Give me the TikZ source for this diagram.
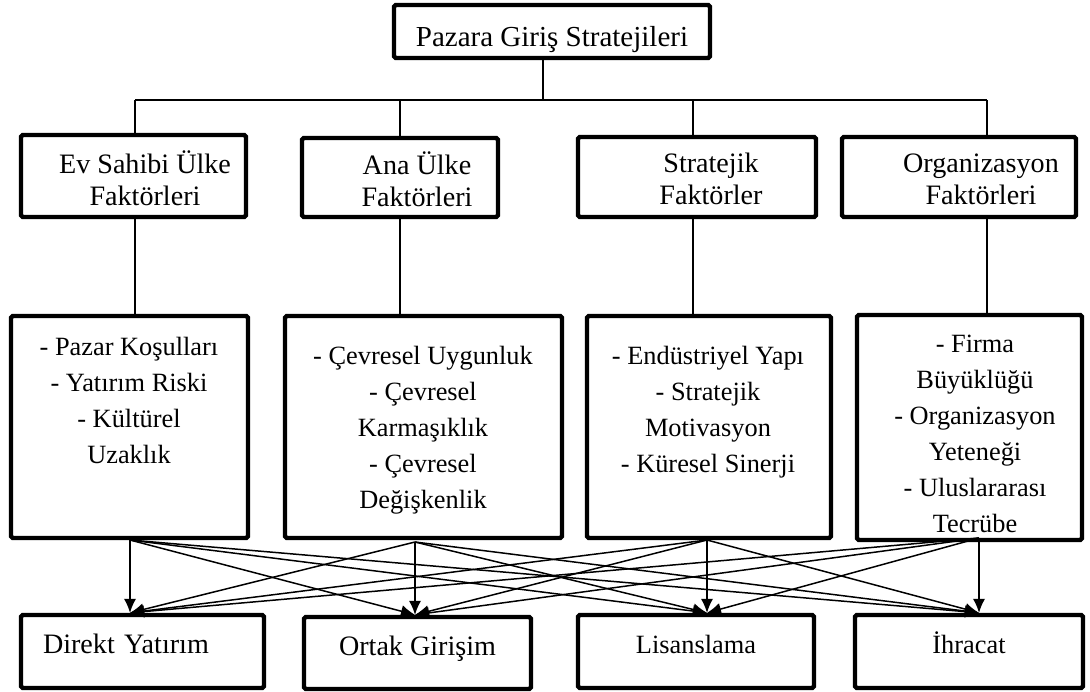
\documentclass[tikz,border=0pt]{standalone}
\usepackage{fontspec}
\setmainfont{Liberation Serif}
\usetikzlibrary{arrows.meta}

\begin{document}
\begin{tikzpicture}[x=0.02cm,y=-0.02cm,
    kutu/.style={draw, line width=2.5pt, rounded corners=1pt, inner sep=0pt},
    baslik/.style={align=center, inner sep=0pt, font=\fontsize{16}{18.2}\selectfont},
    madde/.style={align=center, inner sep=0pt, font=\fontsize{15}{20.5}\selectfont},
    sonuc/.style={kutu, text height=0.4cm, text depth=0.32cm},
    cizgi/.style={line width=0.9pt},
    ok/.style={line width=0.85pt, -{Latex[length=8pt,width=7pt]}}]
\useasboundingbox (0,0) rectangle (1090,691);

% ana baslik
\node[kutu, minimum width=6.32cm, minimum height=1.06cm, text height=0.64cm, text depth=0.05cm,
  font=\fontsize{16.5}{20}\selectfont] (ana) at (552,31.5) {Pazara Giriş Stratejileri};

% faktorler
\node[kutu, minimum width=4.5cm, minimum height=1.64cm] (fa1) at (133.5,176) {};
\node[kutu, minimum width=3.92cm, minimum height=1.58cm] (fa2) at (400,177.5) {};
\node[kutu, minimum width=4.76cm, minimum height=1.6cm] (fa3) at (697,177) {};
\node[kutu, minimum width=4.68cm, minimum height=1.6cm] (fa4) at (959,177) {};
\node[baslik] (fa1y) at (145,178) {Ev Sahibi Ülke\\Faktörleri};
\node[baslik] (fa2y) at (417,179) {Ana Ülke\\Faktörleri};
\node[baslik] (fa3y) at (711,179) {Stratejik\\Faktörler};
\node[baslik] (fa4y) at (981,179) {Organizasyon\\Faktörleri};

% alt faktorler
\node[kutu, minimum width=4.74cm, minimum height=4.44cm] (fb1) at (129.5,427) {};
\node[kutu, minimum width=5.54cm, minimum height=4.44cm] (fb2) at (423.5,427) {};
\node[kutu, minimum width=4.88cm, minimum height=4.44cm] (fb3) at (709,427) {};
\node[kutu, minimum width=4.5cm, minimum height=4.5cm] (fb4) at (969.5,427.5) {};
\node[madde, anchor=north] (fb1y) at (129,337) {- Pazar Koşulları\\- Yatırım Riski\\- Kültürel\\Uzaklık};
\node[madde, anchor=north] (fb2y) at (423,346) {- Çevresel Uygunluk\\- Çevresel\\Karmaşıklık\\- Çevresel\\Değişkenlik};
\node[madde, anchor=north] (fb3y) at (708,346) {- Endüstriyel Yapı\\- Stratejik\\Motivasyon\\- Küresel Sinerji};
\node[madde, anchor=north] (fb4y) at (975,335) {- Firma\\Büyüklüğü\\- Organizasyon\\Yeteneği\\- Uluslararası\\Tecrübe};

% giris yollari
\node[sonuc, inner xsep=0.44cm, text width=3.98cm, align=left, minimum height=1.46cm,
  font=\fontsize{16}{19}\selectfont] (r1) at (142.5,651.5) {Direkt Yatırım};
\node[sonuc, minimum width=4.54cm, minimum height=1.44cm, font=\fontsize{16}{19}\selectfont] (r2) at (417.5,653) {Ortak Girişim};
\node[sonuc, minimum width=4.72cm, minimum height=1.46cm, font=\fontsize{15}{18}\selectfont] (r3) at (696,651.5) {Lisanslama};
\node[sonuc, minimum width=4.56cm, minimum height=1.46cm, font=\fontsize{15}{18}\selectfont] (r4) at (969,651.5) {İhracat};

% agac cizgileri
\coordinate (orta) at (543,100);
\coordinate (k1) at (135,100);
\coordinate (k2) at (400,100);
\coordinate (k3) at (693,100);
\coordinate (k4) at (987,100);
\draw[cizgi] (ana.south -| orta) -- (orta);
\draw[cizgi] (k1) -- (k4);
\foreach \i in {1,...,4}{
  \draw[cizgi] (k\i) -- (k\i |- fa\i.north);
  \draw[cizgi] (k\i |- fa\i.south) -- (k\i |- fb\i.north);
}

% oklar
\coordinate (s1) at (130,540);
\coordinate (s2) at (415,542);
\coordinate (s3) at (707,540);
\coordinate (s4) at (979,538);
\foreach \i in {1,...,4}
  \foreach \j in {1,...,4}
    \draw[ok] (s\i) -- (r\j.north -| s\j);
\end{tikzpicture}
\end{document}
